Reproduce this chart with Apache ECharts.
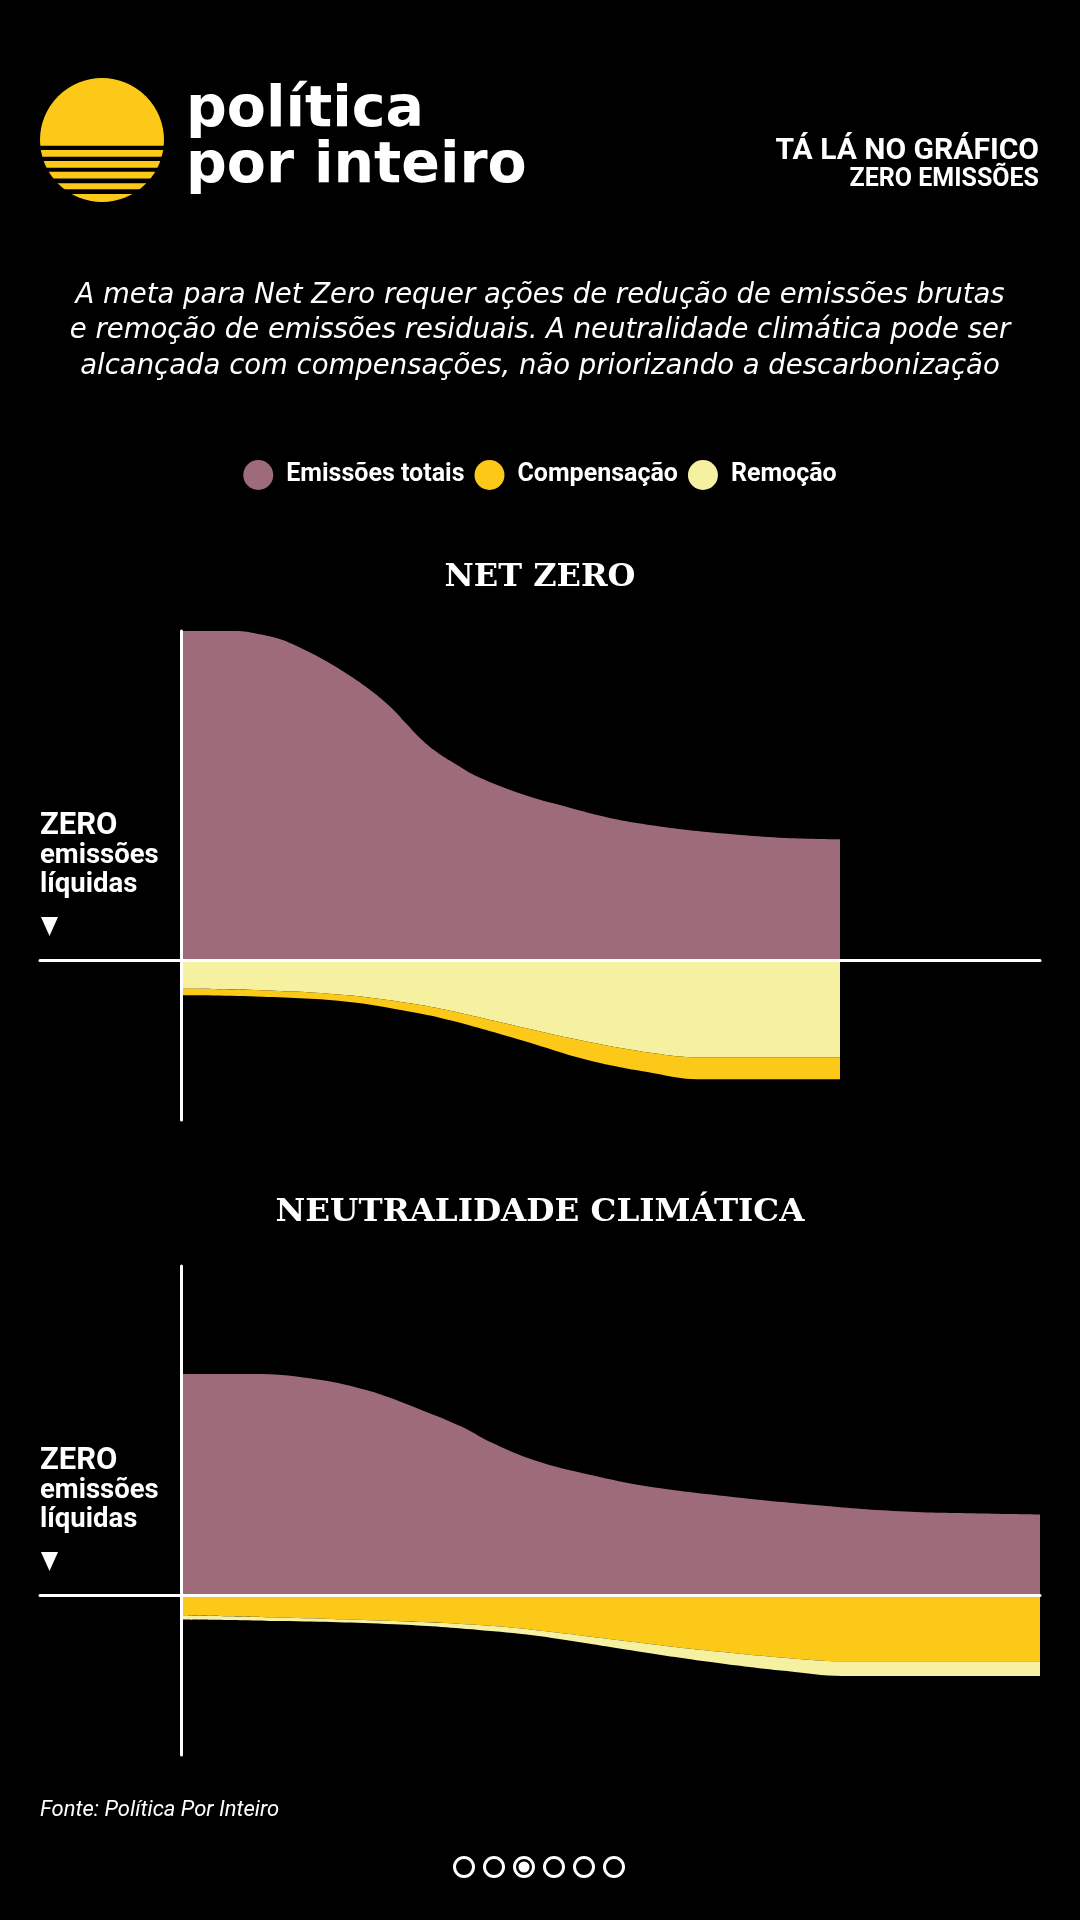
<!DOCTYPE html>
<html>
<head>
<meta charset="utf-8">
<script src="https://cdn.jsdelivr.net/npm/echarts@6/dist/echarts.min.js"></script>
<style>
html,body{margin:0;padding:0;background:#000;}
#chart{width:1080px;height:1920px;}
</style>
</head>
<body>
<div id="chart"></div>
<script>
// ---- Data (relative index units) ----
var seriesNames = ['Emissões totais', 'Compensação', 'Remoção'];
var chartTitles = ['NET ZERO', 'NEUTRALIDADE CLIMÁTICA'];

// NET ZERO
var netZeroX = [0, 6.3, 8.9, 11.5, 14.0, 16.6, 19.2, 21.7, 24.3, 26.3, 27.4, 29.4, 32.0, 34.5, 39.7, 44.8, 49.9, 55.0, 60.1, 65.2, 70.3, 76.7];
var netZeroEmissoes = [100, 100, 99.1, 97.5, 94.7, 91.2, 87.1, 82.6, 77.0, 71.5, 68.4, 63.8, 59.4, 55.7, 50.4, 46.6, 43.2, 40.9, 39.2, 38.0, 37.1, 36.7];
var netZeroNegX = [0, 8.6, 19, 26.8, 31.4, 39.6, 47.3, 55, 60.1, 68, 76.7];
var netZeroRemocao = [-8.7, -9.1, -10.6, -13.2, -15.5, -20.4, -24.8, -28.3, -29.5, -29.5, -29.5];
var netZeroCompensacao = [-2.0, -2.0, -2.0, -2.6, -2.9, -4.0, -5.6, -6.1, -6.7, -6.7, -6.7];

// NEUTRALIDADE CLIMÁTICA
var neutralX = [0, 8.4, 14.9, 21.5, 28.0, 32.6, 35.9, 41.1, 47.7, 54.2, 64.0, 73.8, 83.6, 93.4, 100];
var neutralEmissoes = [67.2, 67.2, 65.9, 62.3, 56.2, 51.2, 46.6, 41.0, 36.5, 33.1, 29.9, 27.4, 25.5, 24.8, 24.5];
var neutralNegX = [0, 11.6, 24.8, 34.6, 41.1, 51.0, 60.7, 70.5, 77, 88, 100];
var neutralCompensacao = [-6.1, -6.8, -7.9, -9.1, -10.6, -13.7, -16.7, -19.1, -20.1, -20.1, -20.1];
var neutralRemocao = [-1.3, -1.1, -1.0, -1.5, -1.7, -2.5, -3.3, -4.0, -4.5, -4.5, -4.5];

// axis ranges
var xRange = [-16.5, 100];
var yRange = [-48.6, 100];

// ---- Styles ----
var PURPLE = '#9E6B7B';
var GOLD = '#FDC918';
var PALE = '#F6F0A1';
var colorOf = {'Emissões totais': PURPLE, 'Compensação': GOLD, 'Remoção': PALE};

// rows are [value, x] so that the value column is the one ECharts stacks
function rows(xs, ys){ return xs.map(function(x,i){ return [ys[i], x]; }); }

function areaSeries(name, gridIdx, xs, ys, stack){
  var s = {
    name: name, type: 'line', xAxisIndex: gridIdx, yAxisIndex: gridIdx,
    data: rows(xs, ys), encode: {x: 1, y: 0}, smooth: 0.4,
    symbol: 'none', showSymbol: false, silent: true,
    lineStyle: {width: 0}, itemStyle: {color: colorOf[name]},
    areaStyle: {color: colorOf[name], opacity: 1}, z: 2
  };
  if (stack) s.stack = stack;
  return s;
}

function xAxisCfg(gridIdx){
  return {gridIndex: gridIdx, type: 'value', min: xRange[0], max: xRange[1], z: 10,
    axisLine: {show: true, onZero: true, lineStyle: {color: '#fff', width: 3}},
    axisTick: {show: false}, axisLabel: {show: false}, splitLine: {show: false}};
}
function yAxisCfg(gridIdx){
  return {gridIndex: gridIdx, type: 'value', min: yRange[0], max: yRange[1], z: 10,
    axisLine: {show: true, onZero: true, lineStyle: {color: '#fff', width: 3}},
    axisTick: {show: false}, axisLabel: {show: false}, splitLine: {show: false}};
}

function txt(x, y, text, font, align, vAlign, extra){
  var st = {text: text, fill: '#fff', font: font,
    textAlign: align || 'left', align: align || 'left',
    textVerticalAlign: vAlign || 'middle', verticalAlign: vAlign || 'middle'};
  if (extra) for (var k in extra) st[k] = extra[k];
  return {type: 'text', x: x, y: y, silent: true, z: 20, style: st};
}

var SANS_B = '"Roboto", sans-serif';
var graphics = [];
// logo
graphics.push({type: 'circle', shape: {cx: 102, cy: 140, r: 62}, style: {fill: GOLD}, z: 20, silent: true});
[[145.7, 150], [156.8, 161], [167.8, 171.8], [178.5, 183.2], [189.2, 194]].forEach(function(g){
  graphics.push({type: 'rect', shape: {x: 36, y: g[0], width: 132, height: g[1]-g[0]}, style: {fill: '#000'}, z: 21, silent: true});
});
graphics.push(txt(186, 111, 'política', 'bold 57px "DejaVu Sans"', 'left', 'middle'));
graphics.push(txt(186, 167, 'por inteiro', 'bold 57px "DejaVu Sans"', 'left', 'middle'));
// header right
graphics.push(txt(1039, 151, 'TÁ LÁ NO GRÁFICO', 'bold 30px ' + SANS_B, 'right', 'middle'));
graphics.push(txt(1039, 180, 'ZERO EMISSÕES', 'bold 25px ' + SANS_B, 'right', 'middle'));
// subtitle
graphics.push(txt(540, 331, 'A meta para Net Zero requer ações de redução de emissões brutas\ne remoção de emissões residuais. A neutralidade climática pode ser\nalcançada com compensações, não priorizando a descarbonização',
  'italic 27.5px "DejaVu Sans"', 'center', 'middle', {lineHeight: 35.5}));
// chart titles
graphics.push(txt(540, 578, chartTitles[0], 'bold 32px "DejaVu Serif"', 'center', 'middle'));
graphics.push(txt(540, 1213, chartTitles[1], 'bold 32.5px "DejaVu Serif"', 'center', 'middle'));
// side labels
[960, 1595].forEach(function(z0){
  graphics.push(txt(40, z0 - 134, 'ZERO', 'bold 31px ' + SANS_B, 'left', 'middle'));
  graphics.push(txt(40, z0 - 104, 'emissões', 'bold 27.5px ' + SANS_B, 'left', 'middle'));
  graphics.push(txt(40, z0 - 75, 'líquidas', 'bold 27.5px ' + SANS_B, 'left', 'middle'));
  graphics.push({type: 'polygon', shape: {points: [[41, z0 - 43], [58, z0 - 43], [49.5, z0 - 24]]}, style: {fill: '#fff'}, z: 20, silent: true});
});
// footer
graphics.push(txt(40, 1810, 'Fonte: Política Por Inteiro', 'italic 22px ' + SANS_B, 'left', 'middle'));
[464, 494, 524, 554, 584, 614].forEach(function(cx, i){
  graphics.push({type: 'circle', shape: {cx: cx, cy: 1867, r: 9.5}, style: {fill: 'none', stroke: '#fff', lineWidth: 3}, z: 20, silent: true});
  if (i === 2) graphics.push({type: 'circle', shape: {cx: cx, cy: 1867, r: 5.5}, style: {fill: '#fff'}, z: 20, silent: true});
});

var option = {
  backgroundColor: '#000',
  animation: false,
  legend: {
    data: seriesNames, top: 455, left: 'center', icon: 'circle',
    itemWidth: 30, itemHeight: 30, itemGap: 10, selectedMode: false,
    textStyle: {color: '#fff', fontFamily: 'Roboto', fontWeight: 'bold', fontSize: 25, padding: [0, 0, 0, 8]}
  },
  grid: [
    {left: 40, right: 40, top: 631, height: 489},
    {left: 40, right: 40, top: 1266, height: 489}
  ],
  xAxis: [xAxisCfg(0), xAxisCfg(1)],
  yAxis: [yAxisCfg(0), yAxisCfg(1)],
  series: [
    areaSeries('Emissões totais', 0, netZeroX, netZeroEmissoes),
    areaSeries('Remoção', 0, netZeroNegX, netZeroRemocao, 'nz'),
    areaSeries('Compensação', 0, netZeroNegX, netZeroCompensacao, 'nz'),
    areaSeries('Emissões totais', 1, neutralX, neutralEmissoes),
    areaSeries('Compensação', 1, neutralNegX, neutralCompensacao, 'nc'),
    areaSeries('Remoção', 1, neutralNegX, neutralRemocao, 'nc')
  ],
  graphic: {elements: graphics}
};

var chart = echarts.init(document.getElementById('chart'), null, {renderer: 'canvas'});
chart.setOption(option);
</script>
</body>
</html>
